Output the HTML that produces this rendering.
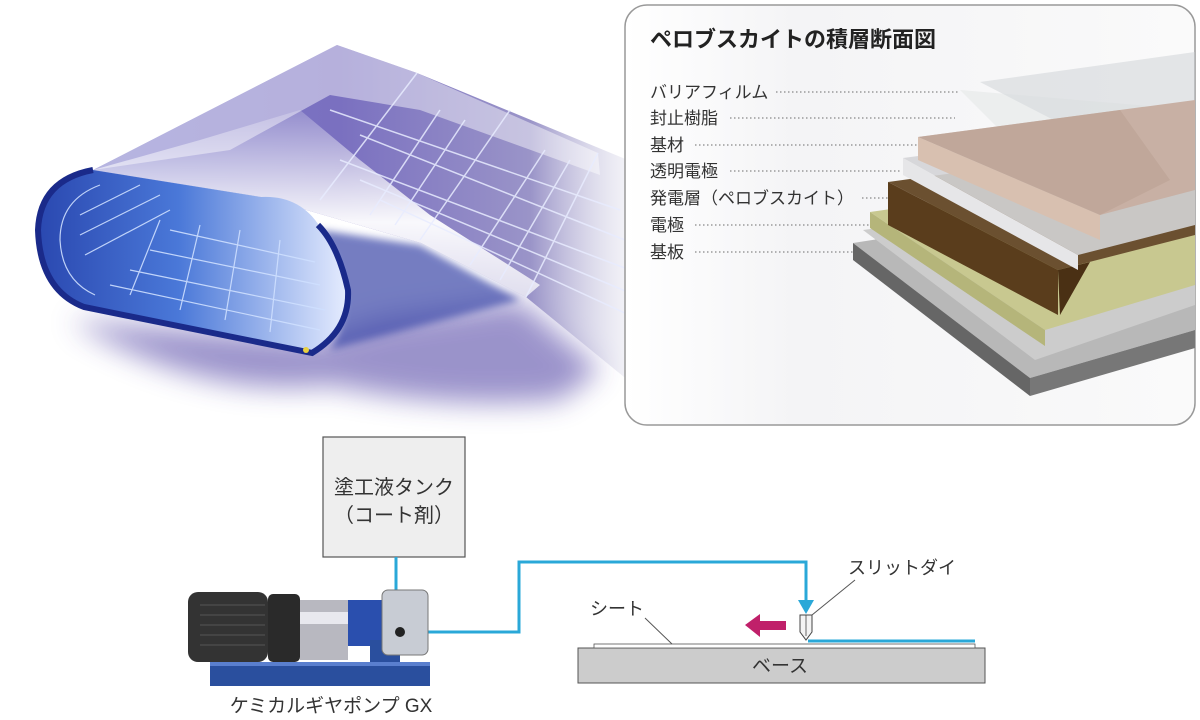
<!DOCTYPE html>
<html><head><meta charset="utf-8"><style>
body{margin:0;background:#fff;}
svg{display:block;font-family:"Liberation Sans","Noto Sans CJK JP",sans-serif;}
</style></head><body>
<svg width="1200" height="720" viewBox="0 0 1200 720" xmlns="http://www.w3.org/2000/svg">
<defs>
<linearGradient id="sheet" x1="0" y1="0" x2="1" y2="0">
<stop offset="0" stop-color="#7a78c8"/><stop offset="0.45" stop-color="#7a70c0"/><stop offset="0.8" stop-color="#9a94c8"/><stop offset="1" stop-color="#e8e8f0" stop-opacity="0.3"/>
</linearGradient>
<linearGradient id="sheen" x1="0" y1="0" x2="0" y2="1">
<stop offset="0" stop-color="#fff" stop-opacity="0.2"/><stop offset="0.6" stop-color="#fff" stop-opacity="0.95"/><stop offset="1" stop-color="#fff" stop-opacity="0.7"/>
</linearGradient>
<linearGradient id="curl" x1="0" y1="0" x2="1" y2="0">
<stop offset="0" stop-color="#2a48b0"/><stop offset="0.45" stop-color="#4a78d8"/><stop offset="1" stop-color="#e8eeff"/>
</linearGradient>
<linearGradient id="panelbg" x1="0" y1="0" x2="1" y2="0">
<stop offset="0" stop-color="#fff"/><stop offset="0.3" stop-color="#f4f4f6"/><stop offset="1" stop-color="#fafafa"/>
</linearGradient>
<filter id="blur" x="-30%" y="-30%" width="160%" height="160%"><feGaussianBlur stdDeviation="14"/></filter>
<filter id="blur2"><feGaussianBlur stdDeviation="4"/></filter>
</defs>

<path d="M70 320 Q200 400 330 385 Q450 410 560 400 L600 370 L520 300 L380 320 L320 340 Z" fill="#4a3aa0" opacity="0.55" filter="url(#blur)"/>
<path d="M320 230 Q360 300 330 350 L520 300 L420 245 Z" fill="#3a46a8" opacity="0.7" filter="url(#blur2)"/>
<path d="M337 45 L417 73 L640 165 L640 390 L526 297 L421 243 L261 197 L93 170 Z" fill="url(#sheet)"/>
<path d="M337 45 L417 73 L598 153 L600 175 L420 110 L330 95 L230 150 L93 170 Z" fill="#fff" opacity="0.45"/>
<path d="M93 170 L261 197 L421 243 L526 297 L540 285 L430 215 L360 160 L300 110 L200 140 Z" fill="url(#sheen)"/>
<g stroke="#e8ecff" stroke-width="1.5" fill="none" opacity="0.85">
<line x1="417" y1="73" x2="320" y2="200"/><line x1="510" y1="110" x2="420" y2="240"/><line x1="598" y1="153" x2="526" y2="297"/>
<line x1="330" y1="110" x2="620" y2="210"/><line x1="340" y1="160" x2="630" y2="270"/><line x1="380" y1="200" x2="640" y2="320"/>
<line x1="440" y1="110" x2="370" y2="215"/><line x1="465" y1="120" x2="395" y2="225"/><line x1="545" y1="150" x2="470" y2="265"/><line x1="570" y1="160" x2="500" y2="280"/>
<line x1="360" y1="135" x2="625" y2="240"/><line x1="360" y1="180" x2="635" y2="295"/>
</g>
<path d="M93 170 Q40 180 38 230 Q40 290 84 307 L312 353 Q350 330 350 300 Q340 250 320 227 Q300 195 261 197 Z" fill="url(#curl)"/>
<path d="M93 170 Q40 180 38 230 Q40 290 84 307 L312 353 Q350 330 348 290 Q338 245 318 225" fill="none" stroke="#1a2a8a" stroke-width="6"/>
<g stroke="#cfe0ff" stroke-width="1.2" fill="none" opacity="0.9">
<path d="M100 185 Q60 200 60 240 Q62 280 95 295"/>
<line x1="80" y1="215" x2="140" y2="185"/><line x1="80" y1="235" x2="160" y2="195"/><line x1="85" y1="255" x2="170" y2="210"/>
<line x1="110" y1="285" x2="320" y2="330"/><line x1="130" y1="270" x2="325" y2="310"/><line x1="150" y1="250" x2="320" y2="285"/><line x1="170" y1="230" x2="315" y2="262"/>
<line x1="160" y1="220" x2="130" y2="295"/><line x1="200" y1="225" x2="180" y2="310"/><line x1="240" y1="230" x2="225" y2="320"/><line x1="280" y1="240" x2="270" y2="332"/>
</g>
<circle cx="306" cy="350" r="3" fill="#e8d040"/>

<rect x="625" y="5" width="570" height="420" rx="22" fill="url(#panelbg)" stroke="#999" stroke-width="1.5"/>
<text x="650" y="47" font-size="22" font-weight="bold" fill="#222">ペロブスカイトの積層断面図</text>
<g font-size="17" fill="#333">
<text x="650" y="98">バリアフィルム</text>
<text x="650" y="124">封止樹脂</text>
<text x="650" y="151">基材</text>
<text x="650" y="177">透明電極</text>
<text x="650" y="204">発電層（ペロブスカイト）</text>
<text x="650" y="231">電極</text>
<text x="650" y="258">基板</text>
</g>
<g stroke="#888" stroke-width="1.2" stroke-dasharray="1.5 2.5">
<line x1="776" y1="92" x2="960" y2="92"/>
<line x1="730" y1="118" x2="955" y2="118"/>
<line x1="695" y1="145" x2="918" y2="145"/>
<line x1="730" y1="171" x2="900" y2="171"/>
<line x1="862" y1="198" x2="888" y2="198"/>
<line x1="695" y1="225" x2="873" y2="225"/>
<line x1="695" y1="252" x2="855" y2="252"/>
</g>
<polygon points="980,82 1195,52 1195,170 1170,180" fill="#c8ccd0" opacity="0.45"/>
<polygon points="960,90 1195,110 1195,260 1150,280" fill="#d8dcdc" opacity="0.35"/>
<polygon points="853,243 1195,190 1195,330 1030,378" fill="#b8b8b8"/>
<polygon points="853,243 1030,378 1030,396 853,260" fill="#666"/>
<polygon points="1030,378 1195,330 1195,348 1030,396" fill="#777"/>
<polygon points="863,230 1195,185 1195,305 1035,360" fill="#ccc"/>
<polygon points="870,212 1195,165 1195,285 1045,330" fill="#c8c890"/>
<polygon points="870,212 1045,330 1045,346 870,228" fill="#b5b57a"/>
<polygon points="888,182 1195,140 1195,235 1058,270" fill="#6b5030"/>
<polygon points="888,182 1058,270 1058,315 888,225" fill="#5a3d1c"/>
<polygon points="1058,270 1090,262 1060,315" fill="#4a3014"/>
<polygon points="903,158 1195,120 1195,225 1078,255" fill="#d4d4d6" opacity="0.9"/>
<polygon points="903,158 1078,255 1078,270 903,175" fill="#e6e6e8"/>
<polygon points="918,137 1195,100 1195,190 1100,215" fill="#c8b0a4"/>
<polygon points="918,137 1100,215 1100,240 918,160" fill="#d8c0b0"/>
<polygon points="918,137 1120,110 1170,180 1100,215" fill="#bba195" opacity="0.6"/>

<rect x="323" y="437" width="142" height="120" fill="#eee" stroke="#555" stroke-width="1.2"/>
<text x="394" y="494" font-size="20" text-anchor="middle" fill="#333">塗工液タンク</text>
<text x="394" y="522" font-size="20" text-anchor="middle" fill="#333">（コート剤）</text>
<g stroke="#2aa8d8" stroke-width="3" fill="none">
<line x1="396" y1="557" x2="396" y2="600"/>
<polyline points="400,632 519,632 519,562 806,562 806,602"/>
<line x1="808" y1="641" x2="975" y2="641"/>
</g>
<polygon points="798,600 814,600 806,614" fill="#2aa8d8"/>
<rect x="210" y="662" width="220" height="24" fill="#2a4f9e"/>
<rect x="210" y="662" width="220" height="4" fill="#5a7fce"/>
<rect x="188" y="592" width="80" height="70" rx="10" fill="#333"/>
<g stroke="#555" stroke-width="1"><line x1="200" y1="605" x2="265" y2="605"/><line x1="200" y1="615" x2="265" y2="615"/><line x1="200" y1="625" x2="265" y2="625"/><line x1="200" y1="635" x2="265" y2="635"/><line x1="200" y1="645" x2="265" y2="645"/></g>
<rect x="268" y="594" width="32" height="68" rx="5" fill="#2a2a2a"/>
<rect x="300" y="600" width="48" height="60" fill="#b8b8c0"/>
<rect x="300" y="612" width="48" height="12" fill="#e8e8ee"/>
<rect x="348" y="600" width="36" height="46" fill="#2a4fae"/>
<rect x="370" y="640" width="30" height="22" fill="#2a4f9e"/>
<rect x="382" y="590" width="46" height="65" rx="6" fill="#c8ccd4" stroke="#777"/>
<circle cx="400" cy="632" r="5" fill="#222"/>
<text x="331" y="712" font-size="19" text-anchor="middle" fill="#333">ケミカルギヤポンプ GX</text>
<rect x="578" y="648" width="407" height="35" fill="#ccc" stroke="#555" stroke-width="1"/>
<rect x="594" y="644" width="381" height="4" fill="#fff" stroke="#555" stroke-width="0.8"/>
<text x="780" y="672" font-size="19" text-anchor="middle" fill="#333">ベース</text>
<polygon points="800,615 812,615 812,632 806,640 800,632" fill="#f4f4f4" stroke="#444" stroke-width="1"/>
<line x1="806" y1="615" x2="806" y2="636" stroke="#444" stroke-width="0.8"/>
<line x1="812" y1="615" x2="855" y2="580" stroke="#555" stroke-width="1"/>
<text x="848" y="574" font-size="18" fill="#333">スリットダイ</text>
<line x1="645" y1="618" x2="672" y2="644" stroke="#555" stroke-width="1"/>
<text x="590" y="615" font-size="18" fill="#333">シート</text>
<polygon points="745,625 760,614 760,621 786,621 786,630 760,630 760,637" fill="#c0206a"/>
</svg>
</body></html>
